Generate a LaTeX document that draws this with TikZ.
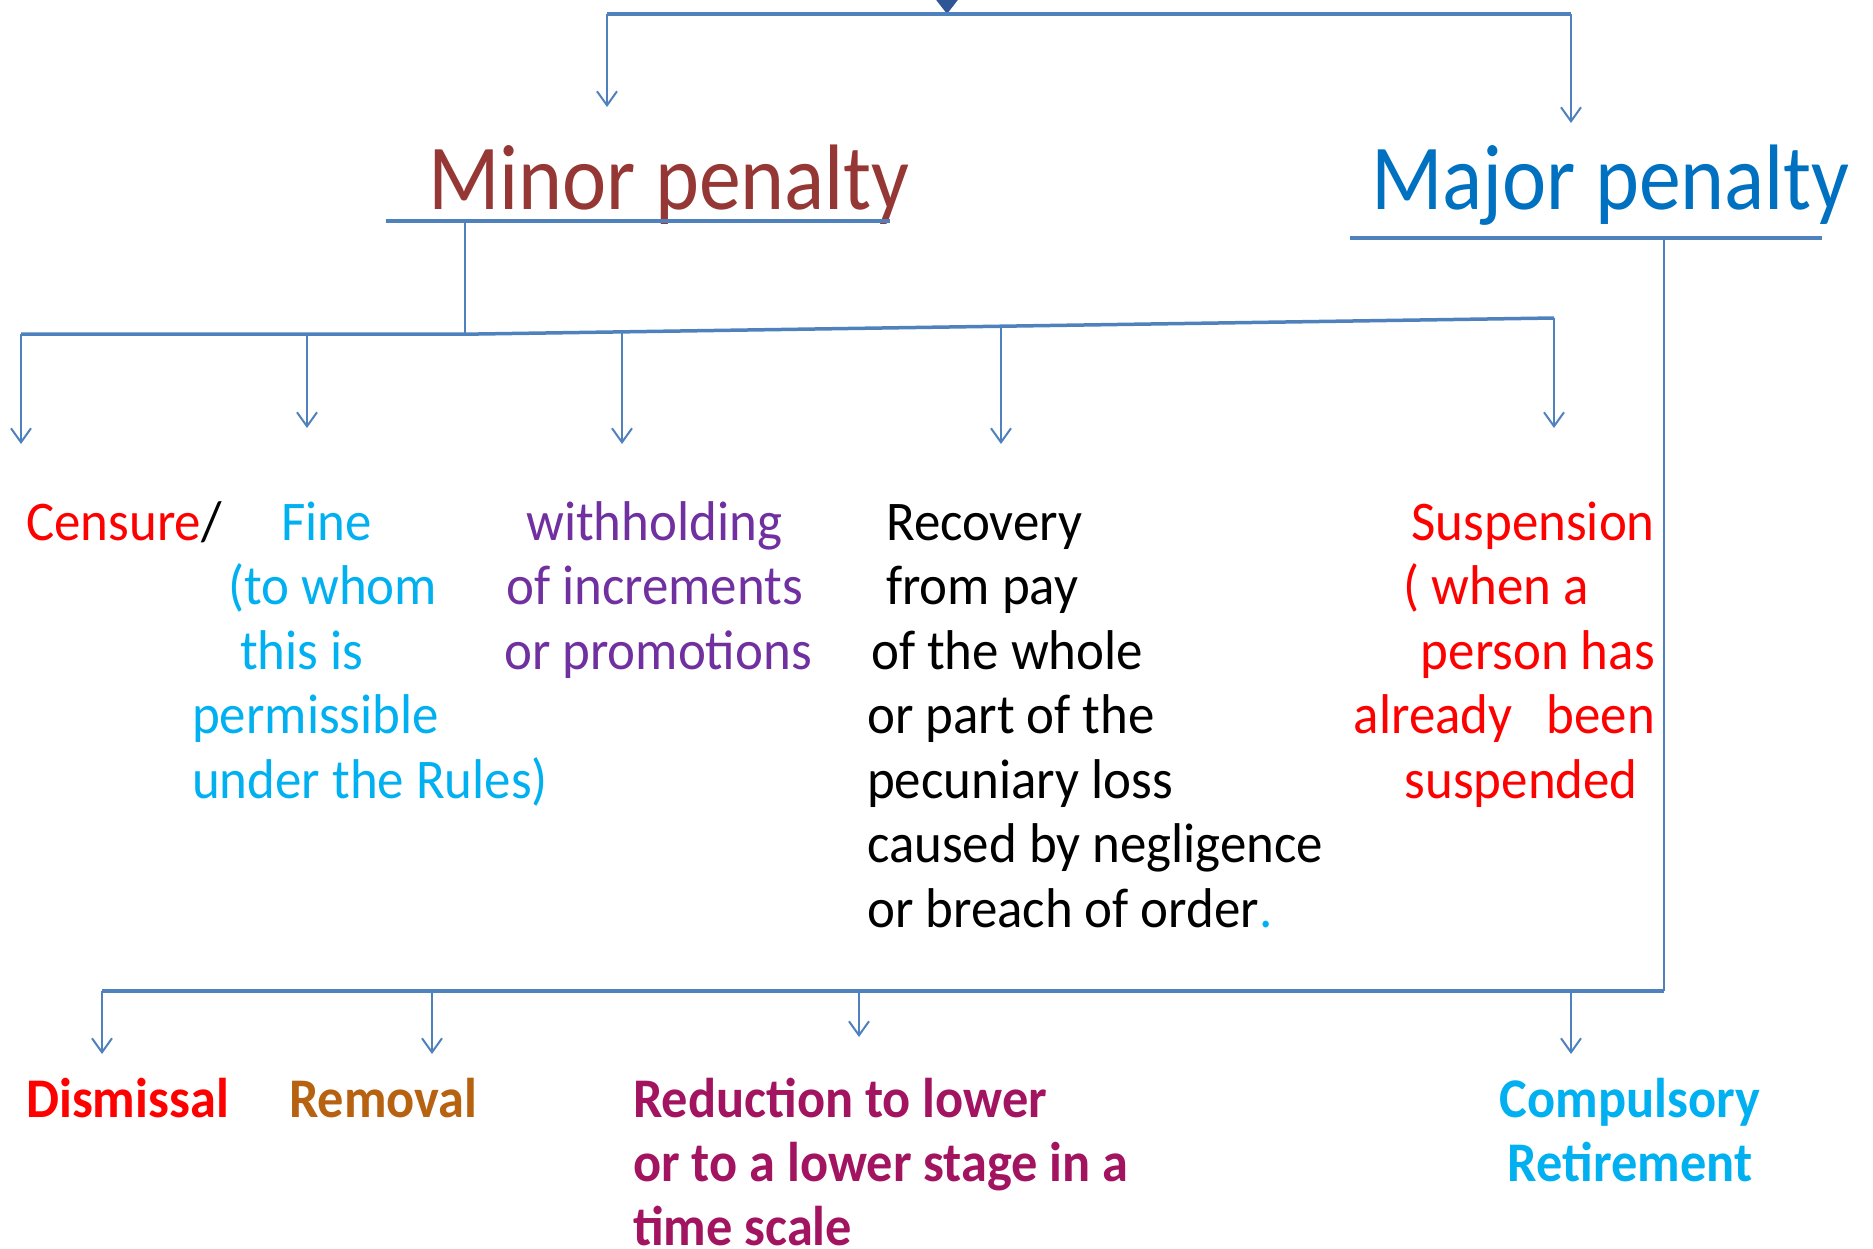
\documentclass[tikz,border=0pt]{standalone}
\usepackage{fontspec}
\setmainfont{Carlito}
\newfontfamily\headfont[FakeStretch=0.9]{Carlito}
\newfontfamily\bodyfont[FakeStretch=0.945]{Carlito}
\newfontfamily\lowfont[FakeStretch=0.935]{Carlito}
\usetikzlibrary{arrows.meta}
\definecolor{linecol}{RGB}{79,129,189}
\definecolor{topcol}{RGB}{47,85,151}
\definecolor{minorcol}{RGB}{149,55,53}
\definecolor{majorcol}{RGB}{0,112,192}
\definecolor{redcol}{RGB}{255,0,0}
\definecolor{cyancol}{RGB}{0,176,240}
\definecolor{purplecol}{RGB}{112,48,160}
\definecolor{browncol}{RGB}{182,98,16}
\definecolor{plumcol}{RGB}{162,20,96}
\tikzset{
  bar/.style={draw=linecol, line width=3.5pt},
  feed/.style={draw=linecol, line width=2pt, -{Straight Barb[length=14pt,width=20pt]}},
  head/.style={inner sep=0pt, anchor=base west, font=\headfont\fontsize{93}{100}\selectfont},
  item/.style={inner sep=0pt, anchor=base west, align=left, font=\bodyfont\fontsize{56}{64.5}\selectfont},
  bolditem/.style={item, font=\lowfont\fontsize{56}{64}\selectfont\bfseries}
}
\begin{document}
\begin{tikzpicture}[x=1pt,y=-1pt]
    \useasboundingbox (0,0) rectangle (1873,1248);
    % headings
    \node[head, text=minorcol] (minor) at (428,209) {Minor penalty};
    \node[head, text=majorcol] (major) at (1371,209) {Major penalty};
    % minor penalties (base = last line)
    \node[item] (censure) at (26,540) {\textcolor{redcol}{Censure}/};
    \node[item, text=cyancol] (fine) at (192,798) {\hspace*{89pt}Fine\\ \hspace*{36pt}(to whom\\ \hspace*{48pt}this is\\ permissible\\ under the Rules)};
    \node[item, text=purplecol] (withhold) at (504,669) {\hspace*{22pt}withholding\\ \hspace*{2pt}of increments\\ or promotions};
    \node[item] (recovery) at (867,927) {\hspace*{19pt}Recovery\\ \hspace*{19pt}from pay\\ \hspace*{4pt}of the whole\\ or part of the\\ pecuniary loss\\ caused by negligence\\ or breach of order\textcolor{cyancol}{.}};
    \node[item, anchor=base east, align=right, text=redcol] (suspension) at (1655,798) {Suspension\\ ( when a\hspace*{66pt}\null\\ person has\\ already\hspace{34pt}been\\ suspended\hspace*{17pt}\null};
    % major penalties
    \node[bolditem, text=redcol] (dismissal) at (26,1117) {Dismissal};
    \node[bolditem, text=browncol] (removal) at (289,1117) {Removal};
    \node[bolditem, text=plumcol] (reduction) at (633,1245) {Reduction to lower\\ or to a lower stage in a\\ time scale};
    \node[bolditem, anchor=base, align=center, text=cyancol] (compulsory) at (1630,1181) {Compulsory\\ Retirement};
    % junction points
    \coordinate (top) at (947,-12);
    \coordinate (topL) at (607,14);
    \coordinate (topM) at (947,14);
    \coordinate (topR) at (1571,14);
    \coordinate (minorIn) at (607,107);
    \coordinate (majorIn) at (1571,123);
    \coordinate (minorL) at (386,221);
    \coordinate (minorR) at (890,221);
    \coordinate (minorOut) at (465,221);
    \coordinate (majorL) at (1350,238);
    \coordinate (majorR) at (1822,238);
    \coordinate (majorOut) at (1664,238);
    \coordinate (forkA) at (21,334);
    \coordinate (forkB) at (465,334);
    \coordinate (forkC) at (478,334);
    \coordinate (forkD) at (1554,318);
    \coordinate (corner) at (1664,991);
    \coordinate (lowL) at (102,991);
    % top bar
    \draw[line width=3pt, draw=topcol, -{Triangle[length=16pt,width=24pt]}] (top) -- (topM);
    \draw[bar] (topL) -- (topR);
    \draw[feed] (topL) -- (minorIn);
    \draw[feed] (topR) -- (majorIn);
    \draw[bar] (minorL) -- (minorR);
    \draw[bar] (majorL) -- (majorR);
    % minor branches
    \draw[linecol, line width=2pt] (minorOut) -- (forkB);
    \draw[bar] (forkA) -- (forkC) -- (forkD);
    \draw[feed] (forkA) -- (21,444);
    \draw[feed] (307,334) -- (307,428);
    \draw[feed] (622,332) -- (622,444);
    \draw[feed] (1001,328) -- (1001,444);
    \draw[feed] (forkD) -- (1554,428);
    % major branches
    \draw[linecol, line width=2.5pt] (majorOut) -- (corner);
    \draw[bar] (corner) -- (lowL);
    \draw[feed] (lowL) -- (102,1054);
    \draw[feed] (432,991) -- (432,1054);
    \draw[feed] (859,991) -- (859,1037);
    \draw[feed] (1571,991) -- (1571,1054);
\end{tikzpicture}
\end{document}
